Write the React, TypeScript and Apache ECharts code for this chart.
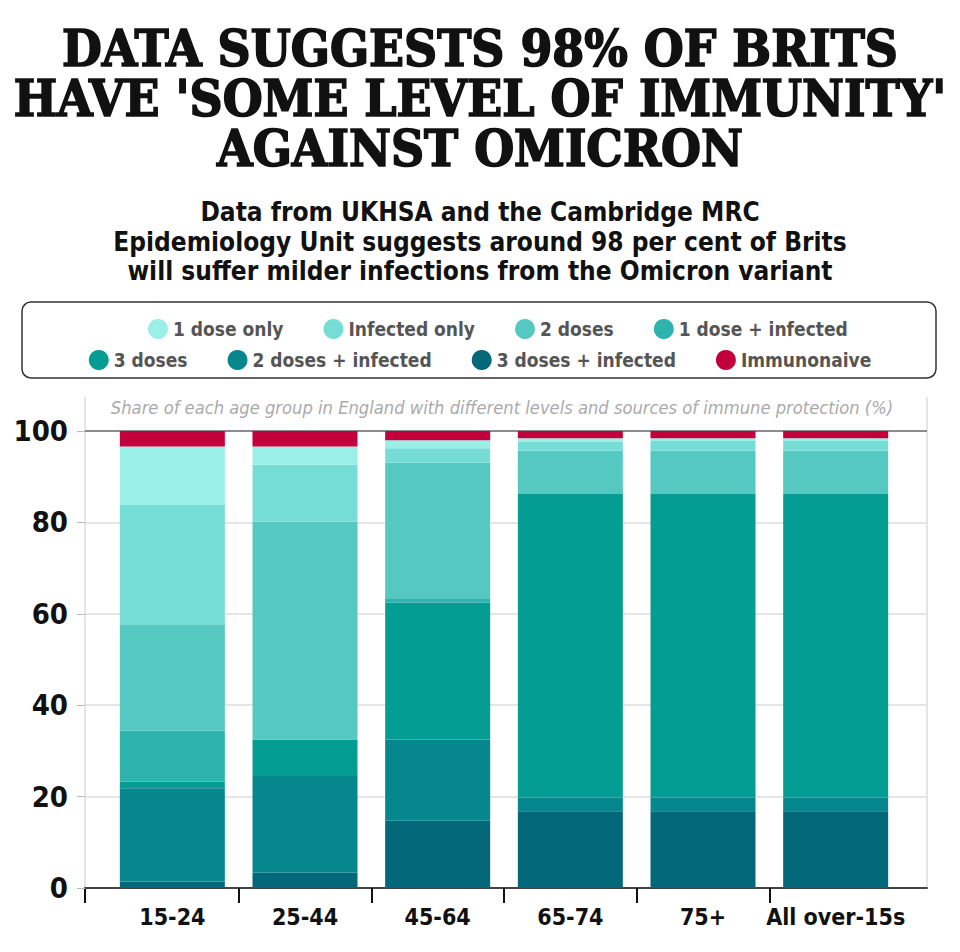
import React, { useEffect, useRef } from 'react';
import * as echarts from 'echarts';

const categories = ['15-24', '25-44', '45-64', '65-74', '75+', 'All over-15s'];

// stacked from bottom to top
const threeDosesInfected = [1.4, 3.4, 14.7, 16.8, 16.8, 16.8];
const twoDosesInfected = [20.4, 21.1, 17.8, 3.0, 3.0, 3.0];
const threeDoses = [1.5, 8.0, 29.9, 66.4, 66.4, 66.4];
const oneDoseInfected = [11.1, 0, 1.0, 0, 0, 0];
const twoDoses = [23.3, 47.7, 29.7, 9.5, 9.5, 9.5];
const infectedOnly = [26.1, 12.4, 3.1, 2.0, 2.1, 2.1];
const oneDoseOnly = [12.8, 4.0, 1.8, 0.7, 0.6, 0.6];
const immunonaive = [3.4, 3.4, 2.0, 1.6, 1.6, 1.6];

const yTicks = [0, 20, 40, 60, 80, 100];

const legendRow1 = ['1 dose only', 'Infected only', '2 doses', '1 dose + infected'];
const legendRow2 = ['3 doses', '2 doses + infected', '3 doses + infected', 'Immunonaive'];

const titleLines = ['DATA SUGGESTS 98% OF BRITS', "HAVE 'SOME LEVEL OF IMMUNITY'", 'AGAINST OMICRON'];
const subtitleLines = [
  'Data from UKHSA and the Cambridge MRC',
  'Epidemiology Unit suggests around 98 per cent of Brits',
  'will suffer milder infections from the Omicron variant',
];
const note = 'Share of each age group in England with different levels and sources of immune protection (%)';

const seriesDefs = [
  { name: '3 doses + infected', data: threeDosesInfected, color: '#02687A' },
  { name: '2 doses + infected', data: twoDosesInfected, color: '#06878D' },
  { name: '3 doses', data: threeDoses, color: '#049D93' },
  { name: '1 dose + infected', data: oneDoseInfected, color: '#2FB4AD' },
  { name: '2 doses', data: twoDoses, color: '#56C8C2' },
  { name: 'Infected only', data: infectedOnly, color: '#76DDD6' },
  { name: '1 dose only', data: oneDoseOnly, color: '#9AEFE6' },
  { name: 'Immunonaive', data: immunonaive, color: '#C2003C' },
];

// band edges between the categories (one more slot than categories)
const bandEdges = [...categories, ''];

const COND = "'DejaVu Sans Condensed', 'DejaVu Sans', sans-serif";
const SLAB = "'DejaVu Serif Condensed', 'DejaVu Serif', serif";

export default function App() {
  const ref = useRef<HTMLDivElement>(null);
  useEffect(() => {
    const chart = echarts.init(ref.current as HTMLDivElement, null, { renderer: 'svg' });
    const legendText = { fontSize: 19, color: '#555', fontFamily: COND, fontWeight: 'bold' as const };
    const titleEls = titleLines.map((t, i) => ({
      type: 'text', x: 480, y: 48 + i * 50,
      style: {
        text: t, textAlign: 'center', textVerticalAlign: 'middle',
        fontSize: 51, lineHeight: 46, fontWeight: 'bold', fontFamily: SLAB, fill: '#111',
        stroke: '#111', lineWidth: 1.6,
      },
    }));
    const subEls = subtitleLines.map((t, i) => ({
      type: 'text', x: 480, y: 212 + i * 29.5,
      style: {
        text: t, textAlign: 'center', textVerticalAlign: 'middle',
        fontSize: 26, lineHeight: 28, fontWeight: 'bold', fontFamily: COND, fill: '#111',
      },
    }));
    const option: any = {
      animation: false,
      backgroundColor: '#fff',
      grid: [
        { left: 85, right: 33, top: 431, bottom: 64 },
        { left: 106, right: 58, top: 431, bottom: 64 },
      ],
      legend: [
        {
          data: legendRow1, top: 314, left: 143, icon: 'circle', itemWidth: 20, itemHeight: 20,
          itemGap: 40, textStyle: legendText, selectedMode: false,
        },
        {
          data: legendRow2, top: 345, left: 'center', icon: 'circle', itemWidth: 20, itemHeight: 20,
          itemGap: 40, textStyle: legendText, selectedMode: false,
        },
      ],
      xAxis: [
        {
          gridIndex: 0, type: 'value', min: 0, max: 1,
          axisLine: { show: true, lineStyle: { color: '#444', width: 2 } },
          axisTick: { show: false }, axisLabel: { show: false }, splitLine: { show: false },
        },
        {
          gridIndex: 1, type: 'category', data: categories, position: 'bottom',
          axisLine: { show: false },
          axisTick: { show: false },
          axisLabel: { interval: 0, fontSize: 23, fontWeight: 'bold', color: '#111', fontFamily: COND, margin: 17 },
        },
        {
          gridIndex: 1, type: 'category', data: bandEdges, boundaryGap: false, position: 'bottom',
          axisLine: { show: false, onZero: false },
          axisTick: { show: true, length: 15, lineStyle: { color: '#111', width: 2 }, interval: (i: number) => i >= 1 && i <= 5 },
          axisLabel: { show: false },
          splitLine: { show: false },
        },
      ],
      yAxis: [
        {
          gridIndex: 0, type: 'value', min: yTicks[0], max: yTicks[yTicks.length - 1], interval: 20,
          axisLine: { show: false },
          axisTick: { show: true, length: 8, lineStyle: { color: '#bbb' } },
          axisLabel: { fontSize: 29, fontWeight: 'bold', color: '#111', fontFamily: COND, margin: 17 },
          splitLine: { show: true, lineStyle: { color: ['#444', '#ddd', '#ddd', '#ddd', '#ddd', '#666'], width: 1.5 } },
        },
        { gridIndex: 1, type: 'value', min: 0, max: 100, show: false },
      ],
      series: seriesDefs.map((s) => ({
        name: s.name,
        type: 'bar',
        stack: 'total',
        xAxisIndex: 1,
        yAxisIndex: 1,
        barWidth: 105,
        data: s.data,
        itemStyle: { color: s.color },
      })),
      graphic: [
        ...titleEls,
        ...subEls,
        {
          type: 'rect', shape: { x: 22, y: 302, width: 914, height: 76, r: 9 },
          style: { fill: 'none', stroke: '#333', lineWidth: 1.5 },
        },
        {
          type: 'text', x: 502, y: 407,
          style: {
            text: note, textAlign: 'center', textVerticalAlign: 'middle',
            fontSize: 18.2, fontStyle: 'italic', fontFamily: COND, fill: '#aaa',
          },
        },
        { type: 'line', shape: { x1: 85, y1: 397, x2: 85, y2: 888 }, style: { stroke: '#ddd', lineWidth: 1.5 } },
        { type: 'line', shape: { x1: 927, y1: 397, x2: 927, y2: 888 }, style: { stroke: '#ddd', lineWidth: 1.5 } },
        { type: 'line', shape: { x1: 85, y1: 888, x2: 85, y2: 903 }, style: { stroke: '#111', lineWidth: 2 } },
      ],
    };
    chart.setOption(option);
    return () => chart.dispose();
  }, []);
  return <div ref={ref} style={{ position: 'fixed', left: 0, top: 0, width: 960, height: 952, background: '#fff' }} />;
}
